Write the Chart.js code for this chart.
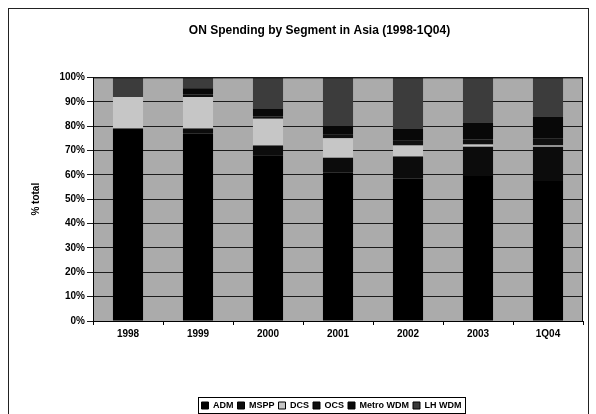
<!DOCTYPE html>
<html>
<head>
<meta charset="utf-8">
<script src="https://cdn.jsdelivr.net/npm/chart.js@4.4.1/dist/chart.umd.min.js"></script>
<style>
  html, body { margin: 0; padding: 0; background: #fff; }
  #wrap { position: relative; width: 596px; height: 414px; }
</style>
</head>
<body>
<div id="wrap"><canvas id="chart" width="596" height="414"></canvas></div>
<script>
// values, % of total per year (stacked to 100)
const categories = ['1998', '1999', '2000', '2001', '2002', '2003', '1Q04'];
const seriesNames = ['ADM', 'MSPP', 'DCS', 'OCS', 'Metro WDM', 'LH WDM'];
const adm      = [79, 77, 68, 61, 58.5, 59.5, 57.5];
const mspp     = [0, 2, 4, 6, 9, 12, 14];
const dcs      = [13, 13, 11, 8, 4.5, 1, 0.5];
const ocs      = [0, 1, 1, 1.5, 2, 2, 3];
const metroWdm = [0, 2.5, 3, 3.5, 5, 7, 9];
const lhWdm    = [8, 4.5, 13, 20, 21, 18.5, 16];
const yTickValues = [0, 10, 20, 30, 40, 50, 60, 70, 80, 90, 100];

const seriesData = [adm, mspp, dcs, ocs, metroWdm, lhWdm];
const seriesColors = ['#000000', '#0c0c0c', '#c6c6c6', '#101010', '#080808', '#3c3c3c'];

const FONT = 'Liberation Sans, Arial, sans-serif';

// grey plot area, frame round the whole chart, box round the legend
const decor = {
    id: 'decor',
    afterLayout(chart) {
        // the scan has title and legend sitting right of the canvas centre
        const t = chart.titleBlock;
        if (t) { t.left += 28; t.right += 28; }
        const lg = chart.legend;
        if (lg) { lg.left += 40; lg.right += 40; lg.top += 6; lg.bottom += 6; }
    },
    beforeDraw(chart) {
        const { ctx, chartArea: a } = chart;
        ctx.save();
        ctx.fillStyle = '#ababab';
        ctx.fillRect(a.left, a.top, a.right - a.left, a.bottom - a.top);
        ctx.strokeStyle = '#222';
        ctx.lineWidth = 1;
        ctx.strokeRect(8.5, 8.5, 580, 420);
        ctx.restore();
    },
    afterDraw(chart) {
        const { ctx, chartArea: a } = chart;
        ctx.save();
        ctx.strokeStyle = '#111';
        ctx.lineWidth = 1;
        ctx.beginPath();
        ctx.moveTo(a.left, a.top + 0.5);
        ctx.lineTo(a.right - 0.5, a.top + 0.5);
        ctx.lineTo(a.right - 0.5, a.bottom);
        ctx.stroke();

        const boxes = chart.legend.legendHitBoxes;
        if (boxes && boxes.length) {
            const l = Math.min(...boxes.map(b => b.left)) - 4;
            const r = Math.max(...boxes.map(b => b.left + b.width)) + 3;
            const t = Math.min(...boxes.map(b => b.top)) - 4;
            const btm = Math.max(...boxes.map(b => b.top + b.height)) + 3;
            ctx.strokeStyle = '#000';
            ctx.strokeRect(Math.round(l) + 0.5, Math.round(t) + 0.5, Math.round(r - l), Math.round(btm - t));
        }
        ctx.restore();
    }
};

new Chart(document.getElementById('chart'), {
    type: 'bar',
    data: {
        labels: categories,
        datasets: seriesNames.map((name, i) => ({
            label: name,
            data: seriesData[i],
            backgroundColor: seriesColors[i],
            borderWidth: 0,
            barPercentage: 0.43,
            categoryPercentage: 1
        }))
    },
    options: {
        responsive: false,
        animation: false,
        layout: { padding: { left: 0, right: 13, top: 0, bottom: 0 } },
        plugins: {
            title: {
                display: true,
                text: 'ON Spending by Segment in Asia (1998-1Q04)',
                color: '#000',
                font: { family: FONT, size: 12, weight: 'bold' },
                padding: { top: 23, bottom: 40 }
            },
            legend: {
                position: 'bottom',
                labels: {
                    color: '#000',
                    font: { family: FONT, size: 9, weight: 'bold' },
                    boxWidth: 7,
                    boxHeight: 7,
                    padding: 4,
                    generateLabels(chart) {
                        return Chart.defaults.plugins.legend.labels.generateLabels(chart).map(l => {
                            l.strokeStyle = '#000';
                            l.lineWidth = 1;
                            return l;
                        });
                    }
                }
            },
            tooltip: { enabled: false }
        },
        scales: {
            x: {
                stacked: true,
                grid: { display: true, drawOnChartArea: false, offset: true, tickLength: 4, color: '#000' },
                border: { display: true, color: '#000' },
                ticks: { color: '#000', font: { family: FONT, size: 10, weight: 'bold' }, padding: 3, maxRotation: 0 },
                afterFit(scale) { scale.height = 70; }
            },
            y: {
                stacked: true,
                min: 0,
                max: 100,
                afterBuildTicks(scale) { scale.ticks = yTickValues.map(v => ({ value: v })); },
                grid: { color: '#1c1c1c', tickLength: 6 },
                border: { display: true, color: '#000' },
                ticks: {
                    color: '#000',
                    font: { family: FONT, size: 10, weight: 'bold' },
                    padding: 2,
                    callback: v => v + '%'
                },
                title: {
                    display: true,
                    text: '% total',
                    color: '#000',
                    font: { family: FONT, size: 10, weight: 'bold' },
                    padding: { top: 30, bottom: 0 }
                },
                afterFit(scale) { scale.width = 93; }
            }
        }
    },
    plugins: [decor]
});
</script>
</body>
</html>
